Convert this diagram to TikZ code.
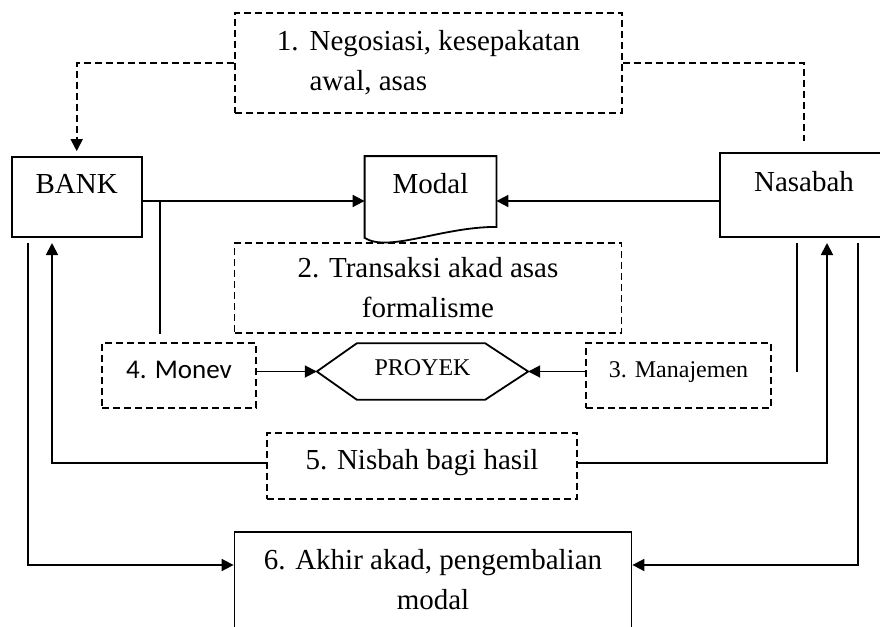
\documentclass[tikz,border=0pt]{standalone}
\usepackage{fontspec}
\setmainfont{Liberation Serif}
\newfontfamily\calibri{Carlito}
\usetikzlibrary{arrows.meta}

\begin{document}
\begin{tikzpicture}[
x=1pt, y=-1pt,
big/.style={font=\fontsize{29}{40}\selectfont},
small/.style={font=\fontsize{24}{30}\selectfont},
box/.style={draw, line width=1.8pt, align=center, inner sep=0pt, big},
dbox/.style={box, dash pattern=on 7pt off 4pt},
party/.style={box, minimum width=130, minimum height=80, text height=20pt, text depth=28pt},
link/.style={line width=1.8pt},
dlink/.style={link, dash pattern=on 7pt off 4pt},
arrow/.style={link, -{Triangle[length=12pt, width=12pt]}}
]
\useasboundingbox (0,0) rectangle (880,626);
\clip (0,0) rectangle (880,626);
\fill[white] (0,0) rectangle (880,626);

\node[dbox, minimum width=387, minimum height=100] (negosiasi) at (428.5,63) {\begin{tabular}{@{}l@{\hspace{11pt}}l@{}}1. & Negosiasi, kesepakatan\\ & awal, asas\end{tabular}};
\node[party] (bank) at (76.7,197) {BANK};
\node[party, draw=none] (modal) at (430.5,197) {Modal};
\node[party, minimum width=168, minimum height=84] (nasabah) at (804,195) {Nasabah};
\node[dbox, minimum width=387, minimum height=90] (transaksi) at (428,288) {2. Transaksi akad asas\\formalisme};
\node[dbox, minimum width=154, minimum height=65, font=\calibri\fontsize{27}{32}\selectfont, text height=17pt, text depth=11pt] (monev) at (179,375.5) {4. Monev};
\node[small, minimum width=211, minimum height=56, text height=16pt, text depth=8pt] (proyek) at (422.5,371.5) {PROYEK};
\node[dbox, small, minimum width=185, minimum height=65, text height=16pt, text depth=13pt] (manajemen) at (678.5,375.5) {3. Manajemen};
\node[dbox, minimum width=310, minimum height=66, text height=20pt, text depth=13pt] (nisbah) at (422,466) {5. Nisbah bagi hasil};
\node[box, minimum width=397, minimum height=96] (akhir) at (433,580) {6. Akhir akad, pengembalian\\modal};

\draw[link] (modal.north west) -- (modal.north east) -- ([yshift=11pt]modal.south east) .. controls +(-55,0) and +(24,15) .. (modal.south west) -- cycle;
\draw[link] (proyek.west) -- ([xshift=40pt]proyek.north west) -- ([xshift=-43pt]proyek.north east) -- (proyek.east) -- ([xshift=-43pt]proyek.south east) -- ([xshift=40pt]proyek.south west) -- cycle;

\coordinate (row) at (0,201);
\coordinate (tap) at (160,201);
\coordinate (l1) at (28,243);
\coordinate (l2) at (52,243);
\coordinate (r1) at (797,243);
\coordinate (r2) at (827,243);
\coordinate (r3) at (858,243);

\draw[dlink, -{Triangle[length=12pt, width=12pt]}] (negosiasi.west) -| ([yshift=5pt]bank.north);
\draw[dlink] (negosiasi.east) -| ([yshift=11pt]nasabah.north);
\draw[arrow] (bank.east |- row) -- (modal.west |- row);
\draw[arrow] (nasabah.west |- row) -- (modal.east |- row);
\draw[link] (tap) -- (tap |- transaksi.south);
\draw[arrow] (monev.east |- proyek.west) -- (proyek.west);
\draw[arrow] (manajemen.west |- proyek.east) -- (proyek.east);
\draw[link] (r1) -- (r1 |- proyek.east);
\draw[arrow] ([yshift=3pt]nisbah.west) -| (l2);
\draw[arrow] ([yshift=3pt]nisbah.east) -| (r2);
\draw[arrow] (l1) |- ([yshift=15pt]akhir.west);
\draw[arrow] (r3) |- ([yshift=15pt]akhir.east);
\end{tikzpicture}
\end{document}
